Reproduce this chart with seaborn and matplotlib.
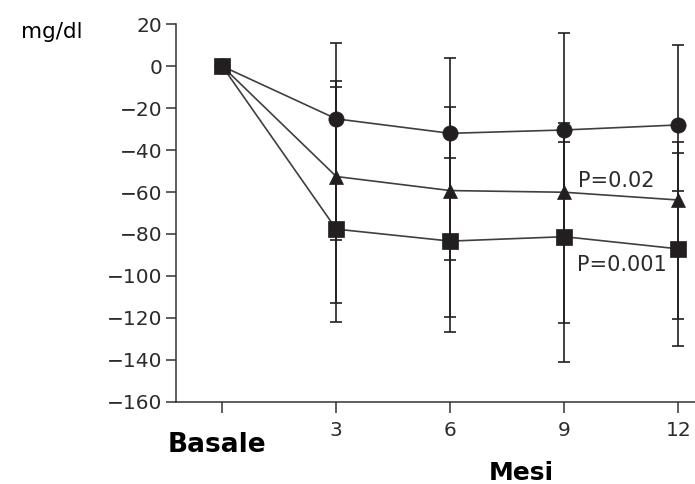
import matplotlib
matplotlib.use("Agg")
import matplotlib.pyplot as plt
import seaborn as sns

# values (mg/dl change from baseline)
months = [0, 3, 6, 9, 12]
circle_vals = [0, -25.1, -32.0, -30.4, -28.0]
triangle_vals = [0, -52.6, -59.3, -60.1, -63.8]
square_vals = [0, -77.7, -83.4, -81.3, -87.1]

# error bar ends (upper / lower cap) at months 3, 6, 9, 12
bar_months = [3, 6, 9, 12]
circle_hi = [11, 3.8, 16, 10]
circle_lo = [-83, -92.4, -81, -59.3]
triangle_hi = [-6.9, -19.6, -27.2, -36]
triangle_lo = [-112.9, -119.4, -122.3, -120.7]
square_hi = [-10, -43.9, -36, -41.5]
square_lo = [-121.8, -126.6, -141.2, -133.2]

y_ticks = [20, 0, -20, -40, -60, -80, -100, -120, -140, -160]
x_ticks = [0, 3, 6, 9, 12]
x_ticklabels = ["", "3", "6", "9", "12"]

sns.set_theme(style="ticks")
plt.rcParams["font.family"] = ["DejaVu Sans"]

ink = "#231f20"
line_col = "#3f3f3f"

fig = plt.figure(figsize=(6.95, 4.84), dpi=100)
ax = fig.add_axes([176 / 695, 1 - 401.7 / 484, 1 - 176 / 695, (401.7 - 24.3) / 484])

series = [
    (circle_vals, circle_hi, circle_lo, "o", 11),
    (triangle_vals, triangle_hi, triangle_lo, "^", 10),
    (square_vals, square_hi, square_lo, "s", 11),
]

# error bars first
for vals, hi, lo, mk, ms in series:
    centers = vals[1:]
    up = [h - c for h, c in zip(hi, centers)]
    down = [c - l for l, c in zip(lo, centers)]
    ax.errorbar(bar_months, centers, yerr=[down, up], fmt="none",
                ecolor=ink, elinewidth=1.2, capsize=4.6, capthick=1.2,
                zorder=2, clip_on=False)

# lines + markers
for vals, hi, lo, mk, ms in series:
    sns.lineplot(x=months, y=vals, ax=ax, color=line_col, linewidth=1.2,
                 marker=mk, markersize=ms, markerfacecolor=ink,
                 markeredgecolor=ink, markeredgewidth=0.5, errorbar=None,
                 zorder=3, clip_on=False)

ax.set_xlim(-1.218, 12.44)
ax.set_ylim(-160, 20)
ax.set_yticks(y_ticks)
ax.set_yticklabels([str(v).replace("-", "\u2212") for v in y_ticks])
ax.set_xticks(x_ticks)
ax.set_xticklabels(x_ticklabels)
ax.set_xlabel("")
ax.set_ylabel("")

for side in ["top", "right"]:
    ax.spines[side].set_visible(False)
for side in ["left", "bottom"]:
    ax.spines[side].set_color("#333333")
    ax.spines[side].set_linewidth(1.1)

ax.tick_params(axis="y", length=7, width=1.1, color="#333333", pad=3,
               labelsize=14.5, labelcolor="#2b2b2b")
ax.tick_params(axis="x", length=8, width=1.1, color="#333333", pad=6,
               labelsize=14.5, labelcolor="#2b2b2b")

ax.text(9.36, -57.4, "P=0.02", fontsize=15, color="#2b2b2b",
        ha="left", va="baseline")
ax.text(9.33, -97.5, "P=0.001", fontsize=15, color="#2b2b2b",
        ha="left", va="baseline")

fig.text(20.7 / 695, 1 - 37.5 / 484, "mg/dl", fontsize=15.5, color="black",
         ha="left", va="baseline")
fig.text(217 / 695, 1 - 451.7 / 484, "Basale", fontsize=19,
         fontweight="bold", color="black", ha="center", va="baseline")
fig.text(521.5 / 695, 1 - 480 / 484, "Mesi", fontsize=18,
         fontweight="bold", color="black", ha="center", va="baseline")

fig.savefig("out.png", dpi=100)
